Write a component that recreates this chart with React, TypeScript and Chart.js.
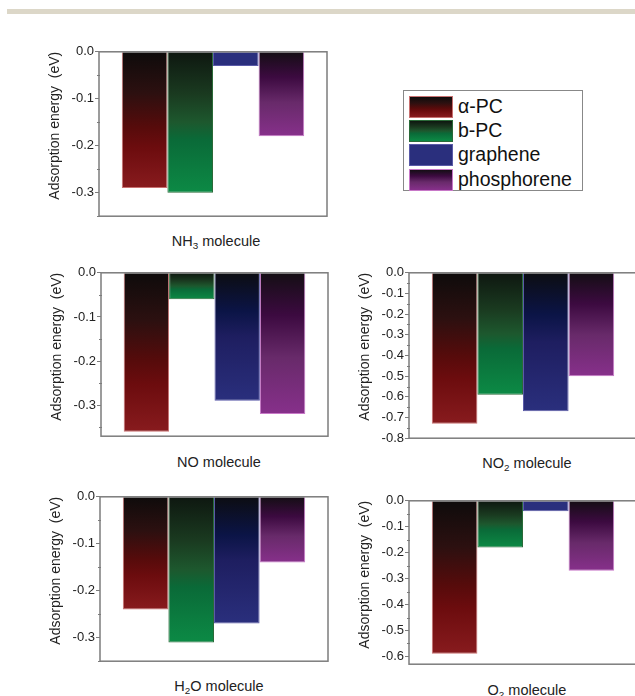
import React, { useEffect, useRef } from "react";
import { Chart, registerables } from "chart.js";

Chart.register(...registerables);

// ---------- data ----------
const MATERIALS = ["α-PC", "b-PC", "graphene", "phosphorene"];

const NH3_VALUES = [-0.29, -0.3, -0.03, -0.18];
const NO_VALUES = [-0.36, -0.06, -0.29, -0.32];
const NO2_VALUES = [-0.73, -0.59, -0.67, -0.5];
const H2O_VALUES = [-0.24, -0.31, -0.27, -0.14];
const O2_VALUES = [-0.59, -0.18, -0.04, -0.27];

const NH3_TICKS = [0, -0.1, -0.2, -0.3];
const NO_TICKS = [0, -0.1, -0.2, -0.3];
const NO2_TICKS = [0, -0.1, -0.2, -0.3, -0.4, -0.5, -0.6, -0.7, -0.8];
const H2O_TICKS = [0, -0.1, -0.2, -0.3];
const O2_TICKS = [0, -0.1, -0.2, -0.3, -0.4, -0.5, -0.6];

const NH3_MIN = -0.35;
const NO_MIN = -0.37;
const NO2_MIN = -0.8;
const H2O_MIN = -0.35;
const O2_MIN = -0.63;

const Y_TITLE = "Adsorption energy  (eV)";

// ---------- styles ----------
const FONT = "Arial, 'Liberation Sans', Helvetica, sans-serif";
const GRADIENTS: [number, string][][] = [
  [[0, "#0e0b0b"], [0.3, "#2c1010"], [0.55, "#560b0b"], [0.7, "#6c0c0e"], [1, "#881b1e"]],
  [[0, "#0e1710"], [0.3, "#1a3a20"], [0.5, "#1d582e"], [0.62, "#0a6a38"], [1, "#0c8a45"]],
  [[0, "#0c0d12"], [0.3, "#0b1446"], [0.5, "#1e1e60"], [1, "#2a2f7d"]],
  [[0, "#140e14"], [0.3, "#3c0a40"], [0.6, "#682a6a"], [1, "#87308b"]],
];
const BORDERS = ["#c87070", "#2a6a38", "#5a5aa8", "#c878c8"];

type Box = { left: number; top: number; right: number; bottom: number };

const PAD_TOP = 8;
const PAD_RIGHT = 4;
const PAD_BOTTOM = 4;
const Y_W = 52;

function Panel(props: { values: number[]; ticks: number[]; min: number; box: Box }) {
  const ref = useRef<HTMLCanvasElement>(null);
  const { values, ticks, min, box } = props;
  const w = box.right - box.left + Y_W + PAD_RIGHT;
  const h = box.bottom - box.top + PAD_TOP + PAD_BOTTOM;

  useEffect(() => {
    if (!ref.current) return;
    const framePlugin = {
      id: "frame",
      afterDraw(chart: any) {
        const { ctx, chartArea: a } = chart;
        const y = chart.scales.y;
        ctx.save();
        ctx.strokeStyle = "#7c7c7c";
        ctx.lineWidth = 1.5;
        ctx.strokeRect(a.left, a.top, a.right - a.left, a.bottom - a.top);
        ctx.lineWidth = 1;
        const mids: number[] = [];
        for (let i = 0; i < ticks.length - 1; i++) mids.push((ticks[i] + ticks[i + 1]) / 2);
        const step = ticks[0] - ticks[1];
        const extra = ticks[ticks.length - 1] - step / 2;
        if (extra >= min - 1e-9) mids.push(extra);
        mids.forEach((v) => {
          const py = Math.round(y.getPixelForValue(v)) + 0.5;
          ctx.beginPath();
          ctx.moveTo(a.left - 2, py);
          ctx.lineTo(a.left + 1, py);
          ctx.stroke();
        });
        ctx.restore();
      },
    };
    const chart = new Chart(ref.current, {
      type: "bar",
      data: {
        labels: [""],
        datasets: MATERIALS.map((m, i) => ({
          label: m,
          data: [values[i]],
          borderColor: BORDERS[i],
          borderWidth: 1,
          backgroundColor: (c: any) => {
            const stops = GRADIENTS[i];
            const solid = stops[stops.length - 1][1];
            const chart = c.chart;
            const ys = chart.scales && chart.scales.y;
            if (!chart.chartArea || !ys || typeof c.raw !== "number") return solid;
            const y0 = ys.getPixelForValue(0);
            const y1 = ys.getPixelForValue(c.raw);
            if (!isFinite(y0) || !isFinite(y1) || Math.abs(y1 - y0) < 20) return solid;
            const g = chart.ctx.createLinearGradient(0, y0, 0, y1);
            stops.forEach(([o, col]) => g.addColorStop(o, col));
            return g;
          },
        })),
      },
      options: {
        responsive: false,
        animation: false,
        devicePixelRatio: 1,
        layout: { padding: { top: PAD_TOP, right: PAD_RIGHT, bottom: PAD_BOTTOM, left: 0 } },
        datasets: { bar: { categoryPercentage: 0.8, barPercentage: 1 } },
        plugins: { legend: { display: false }, tooltip: { enabled: false }, title: { display: false } },
        scales: {
          x: { display: false },
          y: {
            min: min,
            max: 0,
            afterFit: (s: any) => {
              s.width = Y_W;
            },
            afterBuildTicks: (s: any) => {
              s.ticks = ticks.map((v) => ({ value: v }));
            },
            border: { display: false },
            grid: {
              display: true,
              drawOnChartArea: false,
              drawTicks: true,
              tickLength: 4,
              color: "#7c7c7c",
              lineWidth: 1,
            },
            ticks: {
              padding: 1,
              color: "#222",
              font: { family: FONT, size: 13 },
              callback: (v: any) => Number(v).toFixed(1),
            },
            title: {
              display: true,
              text: Y_TITLE,
              align: "end",
              color: "#222",
              padding: 0,
              font: { family: FONT, size: 14 },
            },
          },
        },
      },
      plugins: [framePlugin],
    } as any);
    return () => chart.destroy();
  }, []);

  return (
    <canvas
      ref={ref}
      width={w}
      height={h}
      style={{
        position: "absolute",
        left: box.left - Y_W,
        top: box.top - PAD_TOP,
        width: w,
        height: h,
      }}
    />
  );
}

function Label(props: { cx: number; cy: number; children: any }) {
  return (
    <div
      style={{
        position: "absolute",
        left: props.cx - 100,
        top: props.cy - 9,
        width: 200,
        textAlign: "center",
        fontFamily: FONT,
        fontSize: 14.5,
        lineHeight: "18px",
        color: "#222",
        whiteSpace: "nowrap",
      }}
    >
      {props.children}
    </div>
  );
}

const subStyle: any = { fontSize: "0.68em", verticalAlign: "-0.35em", lineHeight: 0 };

function Legend() {
  return (
    <div
      style={{
        position: "absolute",
        left: 403,
        top: 90,
        width: 180,
        height: 101,
        border: "1px solid #888",
        boxSizing: "border-box",
        background: "#fff",
      }}
    >
      {MATERIALS.map((m, i) => {
        const stops = GRADIENTS[i];
        const bg =
          i === 2
            ? stops[stops.length - 1][1]
            : `linear-gradient(to bottom, ${stops.map(([o, c]) => `${c} ${o * 100}%`).join(", ")})`;
        const top = 5 + Math.round(i * 24.2);
        return (
          <div key={m}>
            <div
              style={{
                position: "absolute",
                left: 5,
                top: top,
                width: 44,
                height: 22,
                boxSizing: "border-box",
                border: `1px solid ${BORDERS[i]}`,
                background: bg,
              }}
            />
            <div
              style={{
                position: "absolute",
                left: 54,
                top: top - 1,
                height: 22,
                lineHeight: "22px",
                fontFamily: FONT,
                fontSize: 19.5,
                color: "#111",
                whiteSpace: "nowrap",
              }}
            >
              {m}
            </div>
          </div>
        );
      })}
    </div>
  );
}

export default function App() {
  return (
    <div
      style={{
        position: "fixed",
        left: 0,
        top: 0,
        width: 635,
        height: 696,
        overflow: "hidden",
        background: "#fff",
      }}
    >
      <div style={{ position: "absolute", left: 7, top: 9, width: 628, height: 5, background: "#dcd7c8" }} />
      <Panel values={NH3_VALUES} ticks={NH3_TICKS} min={NH3_MIN} box={{ left: 99, top: 51, right: 327, bottom: 221 }} />
      <Panel values={NO_VALUES} ticks={NO_TICKS} min={NO_MIN} box={{ left: 101, top: 272, right: 328, bottom: 441 }} />
      <Panel values={NO2_VALUES} ticks={NO2_TICKS} min={NO2_MIN} box={{ left: 409, top: 272, right: 637, bottom: 443 }} />
      <Panel values={H2O_VALUES} ticks={H2O_TICKS} min={H2O_MIN} box={{ left: 100, top: 496, right: 328, bottom: 666 }} />
      <Panel values={O2_VALUES} ticks={O2_TICKS} min={O2_MIN} box={{ left: 409, top: 500, right: 637, bottom: 669 }} />
      <Label cx={216} cy={241}>
        NH<sub style={subStyle}>3</sub> molecule
      </Label>
      <Label cx={219} cy={462}>
        NO molecule
      </Label>
      <Label cx={527} cy={463}>
        NO<sub style={subStyle}>2</sub> molecule
      </Label>
      <Label cx={219} cy={686}>
        H<sub style={subStyle}>2</sub>O molecule
      </Label>
      <Label cx={527} cy={690}>
        O<sub style={subStyle}>2</sub> molecule
      </Label>
      <Legend />
    </div>
  );
}
